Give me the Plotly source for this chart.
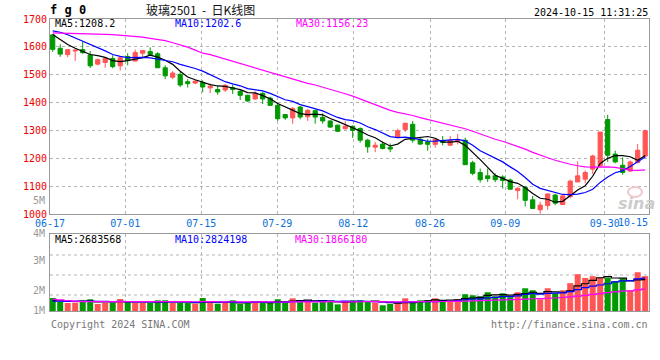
import plotly.graph_objects as go

# ---------------- data ----------------
dates = ["06-17", "06-18", "06-19", "06-20", "06-21",
         "06-24", "06-25", "06-26", "06-27", "06-28",
         "07-01", "07-02", "07-03", "07-04", "07-05",
         "07-08", "07-09", "07-10", "07-11", "07-12",
         "07-15", "07-16", "07-17", "07-18", "07-19",
         "07-22", "07-23", "07-24", "07-25", "07-26",
         "07-29", "07-30", "07-31", "08-01", "08-02",
         "08-05", "08-06", "08-07", "08-08", "08-09",
         "08-12", "08-13", "08-14", "08-15", "08-16",
         "08-19", "08-20", "08-21", "08-22", "08-23",
         "08-26", "08-27", "08-28", "08-29", "08-30",
         "09-02", "09-03", "09-04", "09-05", "09-06",
         "09-09", "09-10", "09-11", "09-12", "09-13",
         "09-18", "09-19", "09-20",
         "09-23", "09-24", "09-25", "09-26", "09-27",
         "09-30",
         "10-08", "10-09", "10-10", "10-11",
         "10-14", "10-15"]

opens = [1643, 1595, 1572, 1585, 1590, 1571, 1538, 1544, 1558, 1532,
         1565, 1549, 1577, 1583, 1575, 1525, 1491, 1501, 1475, 1470,
         1472, 1453, 1447, 1445, 1454, 1440, 1426, 1413, 1433, 1416,
         1390, 1357, 1345, 1384, 1349, 1371, 1347, 1334, 1319, 1306,
         1315, 1307, 1265, 1240, 1251, 1240, 1274, 1303, 1322, 1268,
         1259, 1250, 1262, 1247, 1259, 1265, 1184, 1149, 1137, 1137,
         1133, 1122, 1084, 1096, 1051, 1015, 1030, 1068, 1034, 1063,
         1115, 1125, 1161, 1173, 1339, 1215, 1175, 1154, 1185, 1208]
highs = [1645, 1609, 1591, 1592, 1618, 1585, 1558, 1560, 1570, 1565,
         1577, 1590, 1588, 1598, 1581, 1534, 1513, 1511, 1484, 1480,
         1480, 1468, 1462, 1467, 1464, 1445, 1428, 1440, 1438, 1421,
         1400, 1357, 1384, 1388, 1377, 1374, 1362, 1336, 1321, 1333,
         1318, 1311, 1270, 1259, 1259, 1253, 1306, 1327, 1334, 1275,
         1269, 1270, 1280, 1280, 1287, 1274, 1191, 1163, 1163, 1146,
         1139, 1127, 1096, 1101, 1065, 1044, 1075, 1073, 1068, 1123,
         1189, 1156, 1213, 1295, 1356, 1227, 1203, 1192, 1251, 1303]
lows = [1582, 1564, 1563, 1549, 1575, 1524, 1534, 1525, 1523, 1515,
        1534, 1547, 1563, 1568, 1524, 1484, 1484, 1456, 1454, 1466,
        1437, 1434, 1428, 1438, 1431, 1409, 1402, 1410, 1395, 1388,
        1334, 1338, 1324, 1340, 1334, 1324, 1324, 1309, 1294, 1303,
        1273, 1256, 1220, 1222, 1232, 1222, 1274, 1295, 1256, 1248,
        1227, 1238, 1246, 1244, 1250, 1177, 1139, 1113, 1115, 1114,
        1091, 1087, 1053, 1027, 1018, 1001, 1015, 1032, 1032, 1056,
        1115, 1111, 1144, 1170, 1187, 1182, 1141, 1151, 1182, 1203]
closes = [1591, 1574, 1590, 1588, 1579, 1532, 1554, 1558, 1529, 1561,
          1551, 1580, 1587, 1572, 1525, 1496, 1506, 1463, 1468, 1477,
          1456, 1459, 1438, 1462, 1447, 1426, 1406, 1433, 1413, 1390,
          1342, 1345, 1378, 1348, 1372, 1348, 1334, 1312, 1297, 1315,
          1300, 1265, 1241, 1247, 1235, 1233, 1299, 1326, 1265, 1251,
          1250, 1268, 1257, 1265, 1265, 1177, 1146, 1123, 1127, 1123,
          1120, 1089, 1092, 1049, 1020, 1032, 1072, 1039, 1065, 1118,
          1137, 1149, 1208, 1294, 1211, 1187, 1149, 1187, 1229, 1299]
# closes before 06-17 (estimated from where the MA lines start)
pre_closes = [1588, 1604, 1602, 1593, 1546, 1599, 1603, 1574, 1606, 1623,
              1652, 1659, 1698, 1651, 1622, 1737, 1694, 1699, 1807, 1786,
              1620, 1680, 1700, 1690, 1660, 1668, 1674, 1656, 1632]

# volume in millions of lots
volumes = [1.12, 0.80, 0.69, 0.72, 0.89, 1.01, 0.60, 0.69, 0.69, 1.03,
           0.86, 0.69, 0.69, 0.69, 0.92, 0.92, 0.69, 0.69, 0.69, 0.63,
           1.12, 0.69, 0.63, 0.69, 0.92, 0.60, 0.78, 0.80, 0.72, 0.69,
           1.01, 0.72, 1.09, 0.92, 0.89, 0.72, 0.89, 0.83, 0.57, 0.83,
           0.92, 0.92, 0.83, 0.72, 0.49, 0.60, 0.72, 1.09, 0.72, 0.92,
           0.92, 1.09, 0.92, 0.83, 1.01, 1.44, 1.35, 1.26, 1.61, 1.26,
           1.52, 1.18, 1.61, 1.95, 1.78, 1.01, 1.95, 1.52, 1.78, 2.39,
           3.16, 2.84, 2.99, 2.90, 2.87, 2.56, 2.79, 1.78, 3.33, 2.99]
pre_volumes = [2.4, 2.3, 2.2, 2.2, 0.8, 0.75, 0.82, 0.78, 0.8, 0.76,
               0.85, 0.78, 0.8, 0.74, 0.82, 0.79, 0.8, 0.77, 0.81, 0.78,
               0.8, 0.76, 0.82, 0.79, 0.8, 0.85, 0.8, 0.86, 0.82]

tick_labels = ["06-17", "07-01", "07-15", "07-29", "08-12", "08-26", "09-09", "09-30"]
last_label = "10-15"
price_ticks = [1000, 1100, 1200, 1300, 1400, 1500, 1600, 1700]
vol_labels = ["5M", "4M", "3M", "2M", "1M"]

title_code = "f g 0"
title_name = "玻璃2501\u00a0\u00a0-\u00a0\u00a0日K线图"
stamp = "2024-10-15 11:31:25"
price_ma_text = ["MA5:1208.2", "MA10:1202.6", "MA30:1156.23"]
vol_ma_text = ["MA5:2683568", "MA10:2824198", "MA30:1866180"]
footer_left = "Copyright 2024 SINA.COM"
footer_right = "http://finance.sina.com.cn"

# ---------------- layout constants ----------------
W, H = 660, 360
L, R, T, B = 50, 11, 19, 49
PW, PH = W - L - R, H - T - B
X0_PX, STEP_PX = 52.7, 7.5
GRID_PX = [50, 125.3, 201.3, 277.3, 353.3, 430, 505.3, 604.7]
VOL_PER_PX = 1e6 / 11.6
VOL_LABEL_Y = [200.7, 233.5, 260.3, 290.7, 310.7]

RED = "#FF5555"
GREEN = "#009900"
GRID = "#b4b4b4"
BORDER = "#999999"
BLUE_TXT = "#0a70d8"
MONO = "DejaVu Sans Mono"


def fx(px):
    return (px - L) / PW


def fy(py):
    return (H - B - py) / PH


def to_idx(px):
    return (px - X0_PX) / STEP_PX


def sma(pre, vals, n):
    allv = list(pre) + list(vals)
    off = len(pre)
    return [sum(allv[off + i - n + 1: off + i + 1]) / n for i in range(len(vals))]


N = len(closes)
xi = list(range(N))
xr = [to_idx(L), to_idx(L + PW)]
grid_idx = [to_idx(p) for p in GRID_PX]

ma5 = sma(pre_closes, closes, 5)
ma10 = sma(pre_closes, closes, 10)
ma30 = sma(pre_closes, closes, 30)
vol = [v * 1e6 for v in volumes]
pvol = [v * 1e6 for v in pre_volumes]
vma5 = sma(pvol, vol, 5)
vma10 = sma(pvol, vol, 10)
vma30 = sma(pvol, vol, 30)
vcolors = [RED if c >= o else GREEN for o, c in zip(opens, closes)]

fig = go.Figure()
fig.add_trace(go.Candlestick(
    x=xi, open=opens, high=highs, low=lows, close=closes,
    increasing=dict(line=dict(color=RED, width=1), fillcolor=RED),
    decreasing=dict(line=dict(color=GREEN, width=1), fillcolor=GREEN),
    whiskerwidth=0, xaxis="x", yaxis="y", hoverinfo="skip"))
for ys, col in [(ma5, "#000000"), (ma10, "#0000FF"), (ma30, "#FF00FF")]:
    fig.add_trace(go.Scatter(x=xi, y=ys, mode="lines", line=dict(color=col, width=1.2),
                             xaxis="x", yaxis="y", hoverinfo="skip"))
fig.add_trace(go.Bar(x=xi, y=vol, marker=dict(color=vcolors, line=dict(width=0)),
                     width=0.8, xaxis="x2", yaxis="y2", hoverinfo="skip"))
for ys, col in [(vma5, "#000000"), (vma10, "#0000FF"), (vma30, "#FF00FF")]:
    fig.add_trace(go.Scatter(x=xi, y=ys, mode="lines", line=dict(color=col, width=1.2, shape="hvh"),
                             xaxis="x2", yaxis="y2", hoverinfo="skip"))

axis_common = dict(showline=True, mirror=True, linecolor=BORDER, linewidth=1,
                   zeroline=False, fixedrange=True, ticks="")
fig.update_layout(
    width=W, height=H, margin=dict(l=L, r=R, t=T, b=B),
    paper_bgcolor="white", plot_bgcolor="white", showlegend=False,
    boxgap=0.2, bargap=0.2,
    xaxis=dict(domain=[0, 1], anchor="y", range=xr, tickmode="array",
               tickvals=grid_idx, ticktext=tick_labels,
               showgrid=True, gridcolor=GRID, griddash="dot", gridwidth=1,
               tickfont=dict(family=MONO, size=10, color=BLUE_TXT),
               rangeslider=dict(visible=False), **axis_common),
    yaxis=dict(domain=[fy(214), 1], anchor="x", range=[1000, 1700],
               tickmode="array", tickvals=price_ticks,
               ticktext=[str(v) for v in price_ticks],
               showgrid=True, gridcolor=GRID, griddash="dot", gridwidth=1,
               tickfont=dict(family=MONO, size=10, color="#EE0000"), **axis_common),
    xaxis2=dict(domain=[0, 1], anchor="y2", range=xr, tickmode="array",
                tickvals=grid_idx, showticklabels=False,
                showgrid=True, gridcolor=GRID, griddash="dot", gridwidth=1, **axis_common),
    yaxis2=dict(domain=[0, fy(234.3)], anchor="x2", range=[0, 76.4 * VOL_PER_PX],
                showticklabels=False, showgrid=False, **axis_common),
)

shapes = []
for py in [255, 275, 295]:
    shapes.append(dict(type="line", xref="paper", yref="paper", x0=0, x1=1,
                       y0=fy(py), y1=fy(py), layer="below",
                       line=dict(color=GRID, width=1, dash="dot")))
shapes.append(dict(type="circle", xref="paper", yref="paper",
                   x0=fx(628), x1=fx(642), y0=fy(197), y1=fy(187),
                   line=dict(color="#efc9c9", width=2)))
fig.update_layout(shapes=shapes)

ann = []


def text(s, px, py, anchor="left", size=10, color="#000", family=MONO):
    ann.append(dict(text=s, x=fx(px), y=fy(py), xref="paper", yref="paper",
                    xanchor=anchor, yanchor="middle", showarrow=False,
                    font=dict(family=family, size=size, color=color)))


text("<b>" + title_code + "</b>", 48, 10, size=12)
text(title_name, 200, 10, anchor="center", size=12, color="#111", family="Noto Sans CJK SC")
text(stamp, 650, 12, anchor="right")
for s, px, col in zip(price_ma_text, [53, 173, 294], ["#000", "#0000FF", "#FF00FF"]):
    text(s, px, 24, color=col)
for s, px, col in zip(vol_ma_text, [53, 173, 293], ["#000", "#0000FF", "#FF00FF"]):
    text(s, px, 239, color=col)
for s, py in zip(vol_labels, VOL_LABEL_Y):
    text(s, 47, py, anchor="right", color="#999999")
text(last_label, 650, 222, anchor="right", color=BLUE_TXT)
text(footer_left, 49, 324, color="#777777")
text(footer_right, 650, 324, anchor="right", color="#777777")
text("<b><i>sina</i></b>", 636, 203, anchor="center", size=16, color="#cccccc", family="DejaVu Sans")
fig.update_layout(annotations=ann)

fig.write_html("out.html",
               config={"displayModeBar": False, "staticPlot": True},
               post_script="document.body.style.margin='0';document.body.style.padding='0';"
                           "document.body.style.overflow='hidden';")
